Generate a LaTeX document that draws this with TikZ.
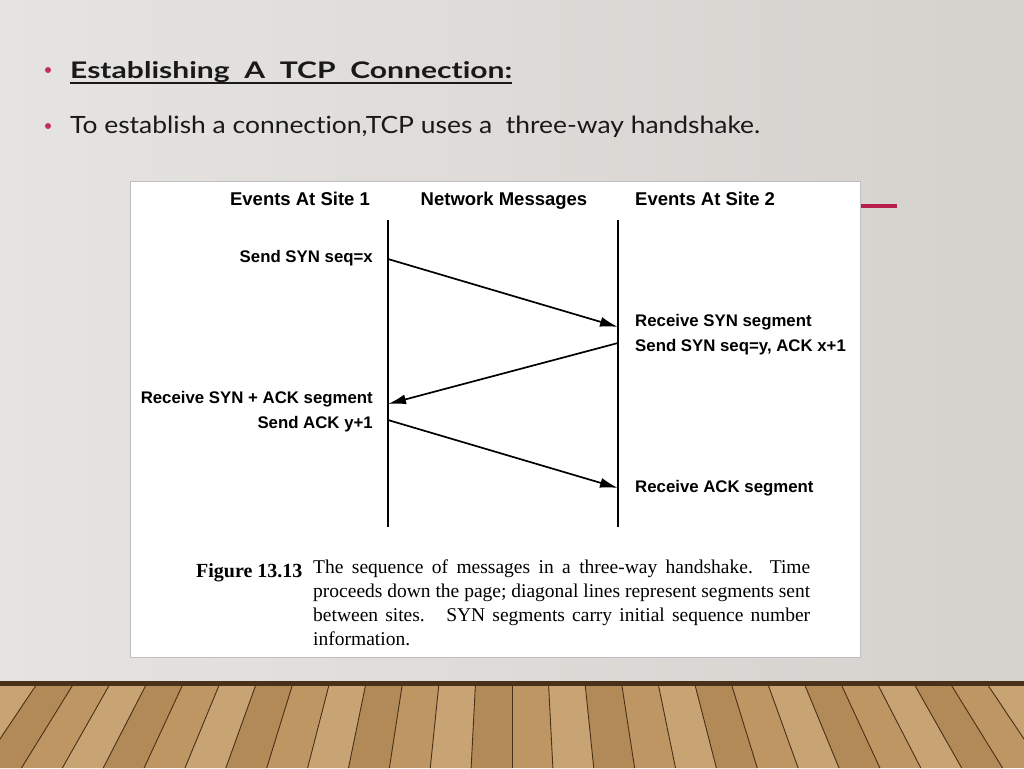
\documentclass[tikz,border=0pt]{standalone}
\usepackage{fontspec}
\setmainfont{Lato}[Ligatures=NoCommon]
\newfontfamily\diagfont{Liberation Sans}
\newfontfamily\capfont{Liberation Serif}
\usetikzlibrary{arrows.meta}
\definecolor{slidebg1}{HTML}{E6E4E2}
\definecolor{slidebg2}{HTML}{D5D1CD}
\definecolor{bulletred}{HTML}{C2305A}
\definecolor{accentred}{HTML}{B81E4C}
\definecolor{woodA}{HTML}{BD9663}
\definecolor{woodB}{HTML}{C8A373}
\definecolor{woodC}{HTML}{B28A58}
\definecolor{woodline}{HTML}{4A3018}
\tikzset{
  slidetext/.style={anchor=base west, inner sep=0, text=black!90},
  bulletdot/.style={circle, fill=bulletred, inner sep=0, minimum size=6},
  head/.style={inner sep=0, anchor=base, font=\diagfont\bfseries\fontsize{18.5}{20}\selectfont},
  lbl/.style={inner sep=0, font=\diagfont\bfseries\fontsize{16.8}{19}\selectfont},
  lifeline/.style={line width=1.8},
  msg/.style={line width=1.7, -{Latex[length=18, width=10]}},
  planksep/.style={woodline, line width=0.9}
}
\begin{document}
\begin{tikzpicture}[x=1pt,y=-1pt]
\useasboundingbox (0,0) rectangle (1024,768);
% slide background
\shade[left color=slidebg1, right color=slidebg2] (0,0) rectangle (1024,683);
% wooden floor
\fill[woodA] (0,683) rectangle (1024,768);
\foreach \k [evaluate=\k as \xt using 512+\k*36.5, evaluate=\k as \xb using 512+\k*36.5*1.12] in {-16,...,15} {
  \pgfmathtruncatemacro{\m}{mod(\k+32,3)}
  \ifnum\m=0 \fill[woodB] (\xt,683) -- (\xt+36.5,683) -- (\xb+40.9,768) -- (\xb,768) -- cycle;\fi
  \ifnum\m=1 \fill[woodC] (\xt,683) -- (\xt+36.5,683) -- (\xb+40.9,768) -- (\xb,768) -- cycle;\fi
  \draw[planksep] (\xt,683) -- (\xb,768);
}
\fill[woodline] (0,681) rectangle (1024,686);
% bullets
\node[bulletdot] (b1) at (48,70) {};
\node[slidetext] (t1) at (70,78) {\resizebox{442pt}{17pt}{\bfseries Establishing\ \ A\ \ TCP\ \ Connection:}};
\draw[line width=1.7, black!90] ([yshift=-5]t1.base west) -- ([yshift=-5]t1.base east);
\node[bulletdot] (b2) at (48,126) {};
\node[slidetext] (t2) at (70,133) {\resizebox{690pt}{17.5pt}{To establish a connection,TCP uses a\ \ three-way handshake.}};
% accent line
\draw[accentred, line width=3.5] (860,206) -- (897,206);
% figure panel
\node[draw=black!25, fill=white, line width=0.8, minimum width=730, minimum height=476, inner sep=0] (panel) at (495,419) {};
% headers
\node[head] (h1) at (300,205) {Events At Site 1};
\node[head] (h2) at (504,205) {Network Messages};
\node[head, anchor=base west] (h3) at (635,205) {Events At Site 2};
% lifelines
\coordinate (L1top) at (388,220);
\coordinate (L1bot) at (388,527);
\coordinate (L2top) at (618,220);
\coordinate (L2bot) at (618,527);
\draw[lifeline] (L1top) -- (L1bot);
\draw[lifeline] (L2top) -- (L2bot);
% message points
\coordinate (s1) at (388,259);
\coordinate (r1) at (618,327);
\coordinate (s2) at (618,343);
\coordinate (r2) at (388,404);
\coordinate (s3) at (388,420);
\coordinate (r3) at (618,488);
\draw[msg] (s1) -- (r1);
\draw[msg] (s2) -- (r2);
\draw[msg] (s3) -- (r3);
% labels
\node[lbl, anchor=base east] (e1) at (373,262) {Send SYN seq=x};
\node[lbl, anchor=base west] (e2) at (635,326) {Receive SYN segment};
\node[lbl, anchor=base west] (e3) at (635,351) {Send SYN seq=y, ACK x+1};
\node[lbl, anchor=base east] (e4) at (373,403) {Receive SYN + ACK segment};
\node[lbl, anchor=base east] (e5) at (373,428) {Send ACK y+1};
\node[lbl, anchor=base west] (e6) at (635,492) {Receive ACK segment};
% caption
\node[inner sep=0, anchor=base west, font=\capfont\bfseries\fontsize{20}{24}\selectfont] (fig) at (196,577) {Figure 13.13};
\node[inner sep=0, anchor=north west, align=left, font=\capfont\fontsize{19.5}{24}\selectfont] (cap) at (313,560) {%
\makebox[497pt][s]{The sequence of messages in a three-way handshake.\ \ Time}\\
\makebox[497pt][s]{proceeds down the page; diagonal lines represent segments sent}\\
\makebox[497pt][s]{between sites.\ \ \ SYN segments carry initial sequence number}\\
information.};
\end{tikzpicture}
\end{document}
